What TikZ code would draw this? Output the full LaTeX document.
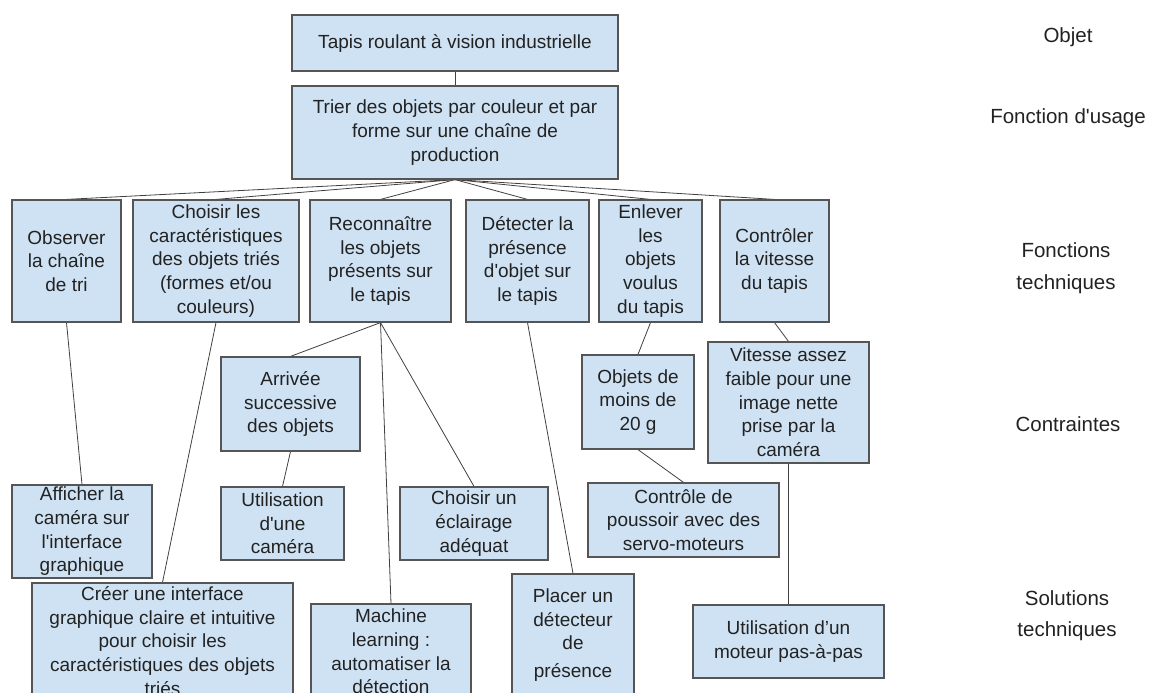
\documentclass[tikz,border=0pt]{standalone}
\usepackage{fontspec}
\usetikzlibrary{backgrounds}
\newfontfamily\diagfont{Liberation Sans}
\definecolor{boxfill}{HTML}{CFE2F3}
\definecolor{boxline}{HTML}{555555}
\definecolor{linkline}{HTML}{404040}
\definecolor{ink}{HTML}{222222}

\begin{document}
\begin{tikzpicture}[x=1pt,y=-1pt,
  every node/.style={font=\diagfont\fontsize{19}{23.7}\selectfont, text=ink},
  box/.style={draw=boxline, line width=1.2pt, fill=boxfill, inner sep=0pt, align=center},
  link/.style={draw=linkline, line width=0.8pt},
  level/.style={align=center, inner sep=0pt, font=\diagfont\fontsize{20.5}{24}\selectfont}]
\useasboundingbox (0,0) rectangle (1156,693);
\clip (0,0) rectangle (1156,693);

% object and usage function
\node[box, minimum width=326, minimum height=56] (tapis) at (455,43)
  {Tapis roulant à vision industrielle};
\node[box, minimum width=326, minimum height=93] (trier) at (455,132.5)
  {Trier des objets par couleur et par\\forme sur une chaîne de\\production};

% technical functions
\node[box, minimum width=109, minimum height=122] (observer) at (66.5,261)
  {Observer\\la chaîne\\de tri};
\node[box, minimum width=166, minimum height=122] (choisir) at (216,261)
  {Choisir les\\caractéristiques\\des objets triés\\(formes et/ou\\couleurs)};
\node[box, minimum width=141, minimum height=122] (reconn) at (380.5,261)
  {Reconnaître\\les objets\\présents sur\\le tapis};
\node[box, minimum width=123, minimum height=122] (detecter) at (527.5,261)
  {Détecter la\\présence\\d'objet sur\\le tapis};
\node[box, minimum width=103, minimum height=122] (enlever) at (650.5,261)
  {Enlever\\les\\objets\\voulus\\du tapis};
\node[box, minimum width=109, minimum height=122] (controler) at (774.5,261)
  {Contrôler\\la vitesse\\du tapis};

% constraints
\node[box, minimum width=139, minimum height=94] (arrivee) at (290.5,404)
  {Arrivée\\successive\\des objets};
\node[box, minimum width=112, minimum height=94] (objets) at (638,402)
  {Objets de\\moins de\\20 g};
\node[box, minimum width=161, minimum height=121] (vitesse) at (788.5,402.5)
  {Vitesse assez\\faible pour une\\image nette\\prise par la\\caméra};

% technical solutions
\node[box, minimum width=140, minimum height=93] (afficher) at (82,531.5)
  {Afficher la\\caméra sur\\l'interface\\graphique};
\node[box, minimum width=123, minimum height=73] (camera) at (282.5,523.5)
  {Utilisation\\d'une\\caméra};
\node[box, minimum width=148, minimum height=73] (eclairage) at (474,523.5)
  {Choisir un\\éclairage\\adéquat};
\node[box, minimum width=191, minimum height=74] (poussoir) at (683.5,520)
  {Contrôle de\\poussoir avec des\\servo-moteurs};
\node[box, minimum width=261, minimum height=116] (creer) at (162.5,641)
  {Créer une interface\\graphique claire et intuitive\\pour choisir les\\caractéristiques des objets\\triés};
\node[box, minimum width=160, minimum height=95] (machine) at (391,651.5)
  {Machine\\learning :\\automatiser la\\détection};
\node[box, minimum width=122, minimum height=122] (placer) at (573,635)
  {Placer un\\détecteur\\de\\[4pt]présence};
\node[box, minimum width=191, minimum height=73] (moteur) at (788.5,641.5)
  {Utilisation d’un\\moteur pas-à-pas};

% level captions
\node[level] (lobjet) at (1068,37) {Objet};
\node[level] (lusage) at (1068,118) {Fonction d'usage};
\node[level] (lft) at (1066,268) {Fonctions\\[8pt]techniques};
\node[level] (lcontr) at (1068,424) {Contraintes};
\node[level] (lsol) at (1067,616) {Solutions\\[7pt]techniques};

% connectors
\begin{scope}[on background layer]
\draw[link] (tapis.south) -- (trier.north);
\foreach \f in {observer,choisir,reconn,detecter,enlever,controler}
  \draw[link] (trier.south) -- (\f.north);
\draw[link] (observer.south) -- (afficher.north);
\draw[link] (choisir.south) -- (creer.north);
\draw[link] (reconn.south) -- (arrivee.north);
\draw[link] (reconn.south) -- (eclairage.north);
\draw[link] (reconn.south) -- (machine.north);
\draw[link] (arrivee.south) -- (camera.north);
\draw[link] (detecter.south) -- (placer.north);
\draw[link] (enlever.south) -- (objets.north);
\draw[link] (objets.south) -- (poussoir.north);
\draw[link] (controler.south) -- (vitesse.north);
\draw[link] (vitesse.south) -- (moteur.north);
\end{scope}
\end{tikzpicture}
\end{document}
